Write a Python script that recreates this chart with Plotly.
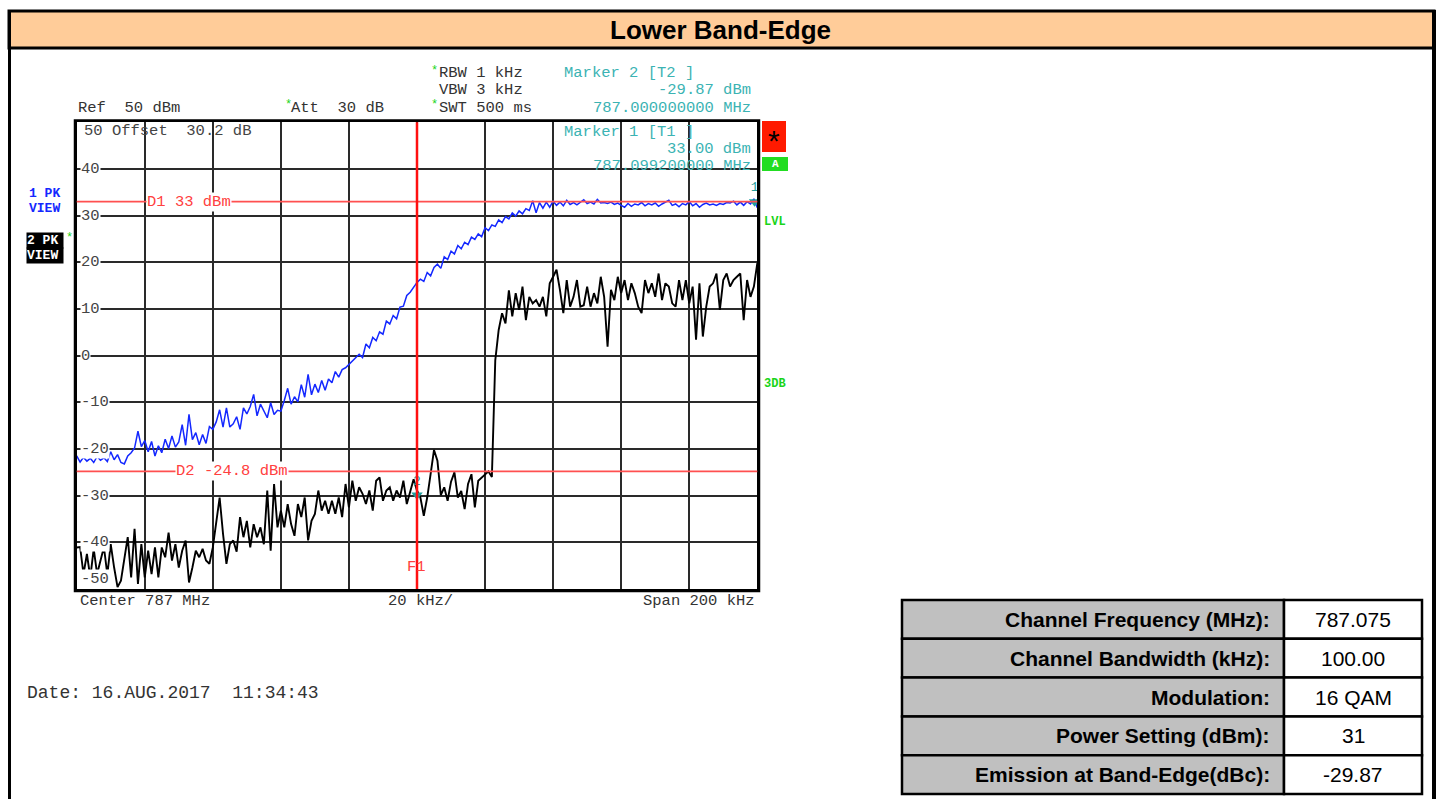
import plotly.graph_objects as go

# ---- data ----
# sweep: 786.9 .. 787.1 MHz, one point per kHz
freq_start_mhz = 786.9
freq_step_mhz = 0.001

# trace 1 (PK, blue)
trace1_dbm = [
    -21.5, -22.8, -21.8, -22.6, -22.0, -22.9, -21.6, -22.4, -21.9, -22.7,
    -20.6, -22.3, -21.2, -22.9, -23.2, -21.5, -20.8, -19.8, -16.2, -19.5,
    -18.2, -20.6, -18.4, -21.5, -19.3, -20.8, -17.9, -19.9, -17.2, -19.6,
    -18.5, -14.8, -19.2, -12.6, -18.0, -16.5, -19.1, -16.9, -18.8, -15.2,
    -15.8, -14.2, -11.6, -15.3, -11.2, -15.3, -14.6, -13.1, -15.8, -11.2,
    -12.5, -10.9, -8.3, -12.9, -10.4, -11.8, -13.3, -10.1, -12.6, -11.7,
    -11.9, -9.6, -7.0, -10.4, -8.8, -9.9, -6.2, -8.9, -4.0, -8.4,
    -6.1, -7.9, -5.3, -7.4, -5.0, -5.8, -3.4, -4.6, -3.0, -2.6,
    -1.9, -1.2, -0.6, 0.3, -0.4, 2.5, 1.7, 3.9, 3.2, 5.1,
    4.6, 7.4, 6.8, 8.6, 7.9, 10.4, 10.6, 12.9, 13.6, 14.8,
    15.7, 16.4, 15.9, 17.8, 17.1, 18.9, 19.6, 18.7, 21.2, 20.6,
    22.4, 21.8, 23.6, 22.9, 24.3, 23.8, 25.4, 24.9, 26.1, 25.5,
    27.4, 26.8, 28.0, 27.7, 29.1, 28.5, 29.8, 29.3, 30.6, 29.9,
    31.0, 30.4, 31.5, 31.1, 33.2, 30.6, 32.8, 31.6, 32.9, 31.8,
    33.1, 32.2, 32.9, 32.1, 33.3, 32.4, 32.8, 32.3, 32.9, 33.4,
    32.6, 32.9, 32.5, 33.5, 32.7, 32.8, 32.6, 32.9, 32.4, 32.7,
    32.2, 31.8, 32.6, 32.0, 32.5, 32.3, 32.8, 32.1, 32.6, 32.3,
    32.7, 32.0, 32.5, 32.9, 33.3, 32.2, 32.5, 31.9, 32.6, 32.3,
    33.0, 32.1, 32.6, 31.8, 32.4, 32.7, 32.3, 32.5, 32.2, 32.6,
    32.4, 32.8, 32.7, 33.1, 32.3, 32.9, 32.2, 33.0, 32.5, 33.6,
    31.7,
]

# trace 2 (PK, black)
trace2_dbm = [
    -41.1, -41.0, -46.8, -42.5, -47.5, -41.4, -46.8, -44.0, -41.0, -46.9,
    -40.4, -45.4, -49.6, -48.2, -43.2, -38.9, -47.5, -37.1, -48.9, -40.4,
    -47.5, -41.8, -46.8, -41.1, -47.5, -41.1, -43.2, -37.9, -43.9, -40.4,
    -45.4, -41.8, -39.6, -48.6, -45.4, -41.8, -43.2, -41.4, -43.9, -44.6,
    -41.1, -36.1, -30.4, -38.2, -44.6, -40.4, -39.6, -42.0, -34.6, -38.9,
    -35.4, -41.1, -36.1, -38.9, -36.8, -40.4, -28.9, -41.8, -27.5, -36.8,
    -33.2, -36.8, -31.8, -36.1, -38.6, -31.8, -34.6, -30.4, -39.6, -35.4,
    -33.9, -28.9, -33.2, -31.1, -33.9, -31.1, -33.9, -30.4, -34.6, -27.5,
    -32.5, -26.8, -31.1, -28.2, -29.6, -31.8, -28.9, -33.2, -26.8, -26.1,
    -31.1, -28.9, -28.2, -31.1, -28.9, -30.4, -26.8, -31.8, -29.2, -26.5,
    -28.9, -30.4, -34.3, -30.4, -25.4, -20.2, -22.5, -29.9, -28.2, -31.1,
    -27.0, -25.0, -30.4, -29.0, -32.9, -27.5, -25.4, -32.5, -26.8, -26.1,
    -25.4, -24.8, -26.0, -1.0, 5.5, 9.1, 6.9, 14.0, 8.4, 13.4,
    9.8, 14.8, 7.6, 12.6, 11.2, 11.9, 10.5, 12.6, 8.4, 15.5,
    16.9, 18.4, 14.1, 9.1, 16.2, 10.5, 12.6, 16.2, 10.5, 10.8,
    14.8, 10.5, 13.4, 11.2, 16.9, 12.6, 1.9, 14.1, 11.9, 16.9,
    13.4, 16.2, 11.9, 15.5, 13.4, 10.5, 9.1, 16.2, 13.4, 15.5,
    12.6, 17.6, 11.9, 15.5, 14.8, 11.2, 10.5, 16.2, 11.9, 16.2,
    11.2, 14.8, 3.4, 15.5, 4.1, 10.5, 14.8, 15.5, 17.6, 9.8,
    16.2, 17.6, 14.8, 16.2, 16.9, 17.6, 7.6, 16.2, 12.6, 14.8,
    19.8,
]

y_ticks = [40, 30, 20, 10, 0, -10, -20, -30, -40]
display_lines = [("D1", 33.0), ("D2", -24.8)]
f1_mhz = 787.0
marker_freqs = [787.0992, 787.0]
marker_levels = [33.0, -29.87]
marker_names = ["1", "2"]

table_labels = ["Channel Frequency (MHz):", "Channel Bandwidth (kHz):", "Modulation:",
                "Power Setting (dBm):", "Emission at Band-Edge(dBc):"]
table_values = ["787.075", "100.00", "16 QAM", "31", "-29.87"]

W, H = 1439, 799
MONO = "Liberation Mono"
SANS = "Liberation Sans, Arial"
TEAL = "#3bb3b3"
GRAY = "#333333"
GREEN = "#19d419"


def px(x):
    return x / W


def py(y):
    return 1 - y / H


fig = go.Figure()

fig.add_trace(go.Scatter(x0=freq_start_mhz, dx=freq_step_mhz, y=trace2_dbm, mode="lines",
                         line=dict(color="black", width=1.9), hoverinfo="skip", showlegend=False))
fig.add_trace(go.Scatter(x0=freq_start_mhz, dx=freq_step_mhz, y=trace1_dbm, mode="lines",
                         line=dict(color="#1428ff", width=1.5), hoverinfo="skip", showlegend=False))

# markers
fig.add_trace(go.Scatter(x=marker_freqs, y=marker_levels, mode="markers+text",
                         marker=dict(symbol="triangle-down", size=10, color="#1f9e9e"),
                         text=marker_names, textposition="top center",
                         textfont=dict(family=MONO, size=13, color="#1f9e9e"),
                         hoverinfo="skip", showlegend=False))

shapes = []
ann = []


def txt(x, y, s, color=GRAY, size=15.5, anchor="left", family=MONO, **kw):
    ann.append(dict(x=px(x), y=py(y), xref="paper", yref="paper", text=s, showarrow=False,
                    xanchor=anchor, yanchor="middle", font=dict(family=family, size=size, color=color), **kw))


# header band and page border
shapes.append(dict(type="rect", xref="paper", yref="paper", x0=px(9), x1=px(1434), y0=py(11), y1=py(48),
                   fillcolor="#ffcc99", line=dict(color="black", width=3)))
shapes.append(dict(type="line", xref="paper", yref="paper", x0=px(9.5), x1=px(9.5), y0=py(10), y1=py(799),
                   line=dict(color="black", width=3)))
shapes.append(dict(type="line", xref="paper", yref="paper", x0=px(1434), x1=px(1434), y0=py(10), y1=py(799),
                   line=dict(color="black", width=4)))
txt(720, 30, "<b>Lower Band-Edge</b>", color="black", size=26, anchor="center", family=SANS)

# outer frame of the grid (double line look)
shapes.append(dict(type="rect", xref="paper", yref="paper", x0=px(74.5), x1=px(759.5), y0=py(120), y1=py(591.5),
                   line=dict(color="black", width=1.5)))

# display lines D1 / D2
for name, lvl in display_lines:
    shapes.append(dict(type="line", xref="paper", yref="y", x0=px(76.7), x1=px(757.3), y0=lvl, y1=lvl,
                       line=dict(color="#ff5050", width=1.6)))
d_label_x = [146, 175]
for (name, lvl), lx in zip(display_lines, d_label_x):
    ann.append(dict(x=px(lx), y=lvl, xref="paper", yref="y", text=f"{name} {lvl:g} dBm", showarrow=False,
                    xanchor="left", yanchor="middle", bgcolor="white", borderpad=0,
                    font=dict(family=MONO, size=15.5, color="#ff4040")))

# y tick labels drawn inside the grid
for t in y_ticks + [-50]:
    yy = t if t != -50 else -47.8
    ann.append(dict(x=px(80), y=yy, xref="paper", yref="y", text=str(t), showarrow=False, xanchor="left",
                    yanchor="middle", bgcolor="white", borderpad=0,
                    font=dict(family=MONO, size=15.5, color="#444444")))

# F1 frequency line
shapes.append(dict(type="line", xref="x", yref="paper", x0=f1_mhz, x1=f1_mhz, y0=py(589), y1=py(122.3),
                   layer="above", line=dict(color="#ff1010", width=2.5)))
txt(416, 567, "F1", color="#ff4040", anchor="center")

# settings text above the grid
txt(76, 108, "Ref  50 dBm")
txt(283, 105, "*", color=GREEN, size=12)
txt(289, 108, "Att  30 dB")
txt(429, 71, "*", color=GREEN, size=12)
txt(437, 73, "RBW 1 kHz")
txt(437, 90, "VBW 3 kHz")
txt(429, 105, "*", color=GREEN, size=12)
txt(437, 108, "SWT 500 ms")
txt(562, 73, "Marker 2 [T2 ]", color=TEAL)
txt(753, 90, f"{marker_levels[1]:.2f} dBm", color=TEAL, anchor="right")
txt(753, 108, f"{marker_freqs[1]:.9f} MHz", color=TEAL, anchor="right")
txt(562, 132, "Marker 1 [T1 ]", color=TEAL)
txt(753, 149, f"{marker_levels[0]:.2f} dBm", color=TEAL, anchor="right")
txt(753, 166, f"{marker_freqs[0]:.9f} MHz", color=TEAL, anchor="right")
txt(82, 131, "50 Offset  30.2 dB", color="#444444")

# left trace labels
txt(27, 193, "<b>1 PK</b>", color="#1428ff", size=13)
txt(27, 208, "<b>VIEW</b>", color="#1428ff", size=13)
txt(26, 240, "<b>2 PK</b>", color="white", size=13, bgcolor="black", borderpad=0, width=36, align="left")
txt(26, 256, "<b>VIEW</b>", color="white", size=13, bgcolor="black", borderpad=0, width=36, align="left")
txt(64, 238, "*", color=GREEN, size=12)

# right status boxes
shapes.append(dict(type="rect", xref="paper", yref="paper", x0=px(762), x1=px(786), y0=py(121), y1=py(152),
                   fillcolor="#ff1a00", line=dict(width=0)))
txt(774, 140, "*", color="black", size=30, anchor="center", family=SANS)
shapes.append(dict(type="rect", xref="paper", yref="paper", x0=px(762), x1=px(788), y0=py(157), y1=py(171),
                   fillcolor="#22dd22", line=dict(width=0)))
txt(775, 164, "<b>A</b>", color="white", size=11, anchor="center")
txt(762, 222, "<b>LVL</b>", color=GREEN, size=12)
txt(762, 384, "<b>3DB</b>", color=GREEN, size=12)

# bottom axis text
txt(78, 601, "Center 787 MHz")
txt(386, 601, "20 kHz/")
txt(757, 601, "Span 200 kHz", anchor="right")
txt(25, 693, "Date: 16.AUG.2017  11:34:43", size=18)

# settings table
row_top = 600
row_h = 38.8
for i, (lab, val) in enumerate(zip(table_labels, table_values)):
    y0 = row_top + i * row_h
    y1 = y0 + row_h
    shapes.append(dict(type="rect", xref="paper", yref="paper", x0=px(902), x1=px(1284), y0=py(y0), y1=py(y1),
                       fillcolor="#c0c0c0", line=dict(color="black", width=2.5)))
    shapes.append(dict(type="rect", xref="paper", yref="paper", x0=px(1284), x1=px(1422), y0=py(y0), y1=py(y1),
                       fillcolor="white", line=dict(color="black", width=2.5)))
    txt(1272, (y0 + y1) / 2, f"<b>{lab}</b>", color="black", size=21, anchor="right", family=SANS)
    txt(1353, (y0 + y1) / 2, val, color="black", size=21, anchor="center", family=SANS)

axis_common = dict(showgrid=True, gridcolor="#2a2a2a", gridwidth=1.6, zeroline=False, showticklabels=False,
                   ticks="", showline=True, mirror=True, linecolor="black", linewidth=2)

fig.update_layout(
    width=W, height=H,
    margin=dict(l=0, r=0, t=0, b=0),
    paper_bgcolor="white", plot_bgcolor="white",
    xaxis=dict(domain=[px(76.7), px(757.3)], range=[786.9, 787.1], tick0=786.9, dtick=0.02, **axis_common),
    yaxis=dict(domain=[py(589), py(122.3)], range=[-50, 50], dtick=10, **axis_common),
    shapes=shapes,
    annotations=ann,
    showlegend=False,
)

fig.write_html("out.html", config={"displayModeBar": False},
               post_script="document.body.style.margin='0';")
